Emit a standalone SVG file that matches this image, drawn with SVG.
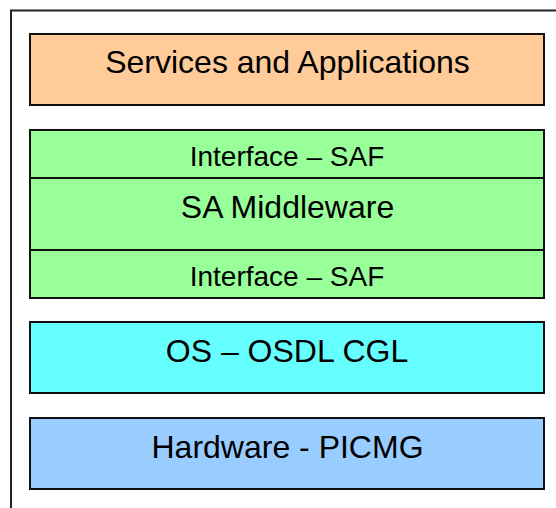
<svg xmlns="http://www.w3.org/2000/svg" width="556" height="508" viewBox="0 0 556 508">
<style>
.box{stroke:#111;stroke-width:2}
.t{font-family:"Liberation Sans",Arial,sans-serif;fill:#000;text-anchor:middle}
.big{font-size:32px}
.small{font-size:28px}
</style>
<rect width="556" height="508" fill="#fff"/>
<g id="frame"><rect x="11" y="10.5" width="560" height="520" fill="none" stroke="#222" stroke-width="2"/></g>
<g id="services">
<rect class="box" x="30" y="34" width="514" height="71" fill="#FFCC99"/>
<text class="t big" x="287.5" y="73">Services and Applications</text>
</g>
<g id="middleware">
<rect class="box" x="30" y="130" width="514" height="168" fill="#99FF99"/>
<line class="box" x1="30" y1="178" x2="544" y2="178"/>
<line class="box" x1="30" y1="250" x2="544" y2="250"/>
<text class="t small" x="287" y="166">Interface – SAF</text>
<text class="t big" x="287.5" y="218">SA Middleware</text>
<text class="t small" x="287" y="286">Interface – SAF</text>
</g>
<g id="os">
<rect class="box" x="30" y="322" width="514" height="71" fill="#66FFFF"/>
<text class="t big" x="287" y="362">OS – OSDL CGL</text>
</g>
<g id="hardware">
<rect class="box" x="30" y="418" width="514" height="71" fill="#99CCFF"/>
<text class="t big" x="287.5" y="458">Hardware - PICMG</text>
</g>
<g id="connectors"/>
</svg>
